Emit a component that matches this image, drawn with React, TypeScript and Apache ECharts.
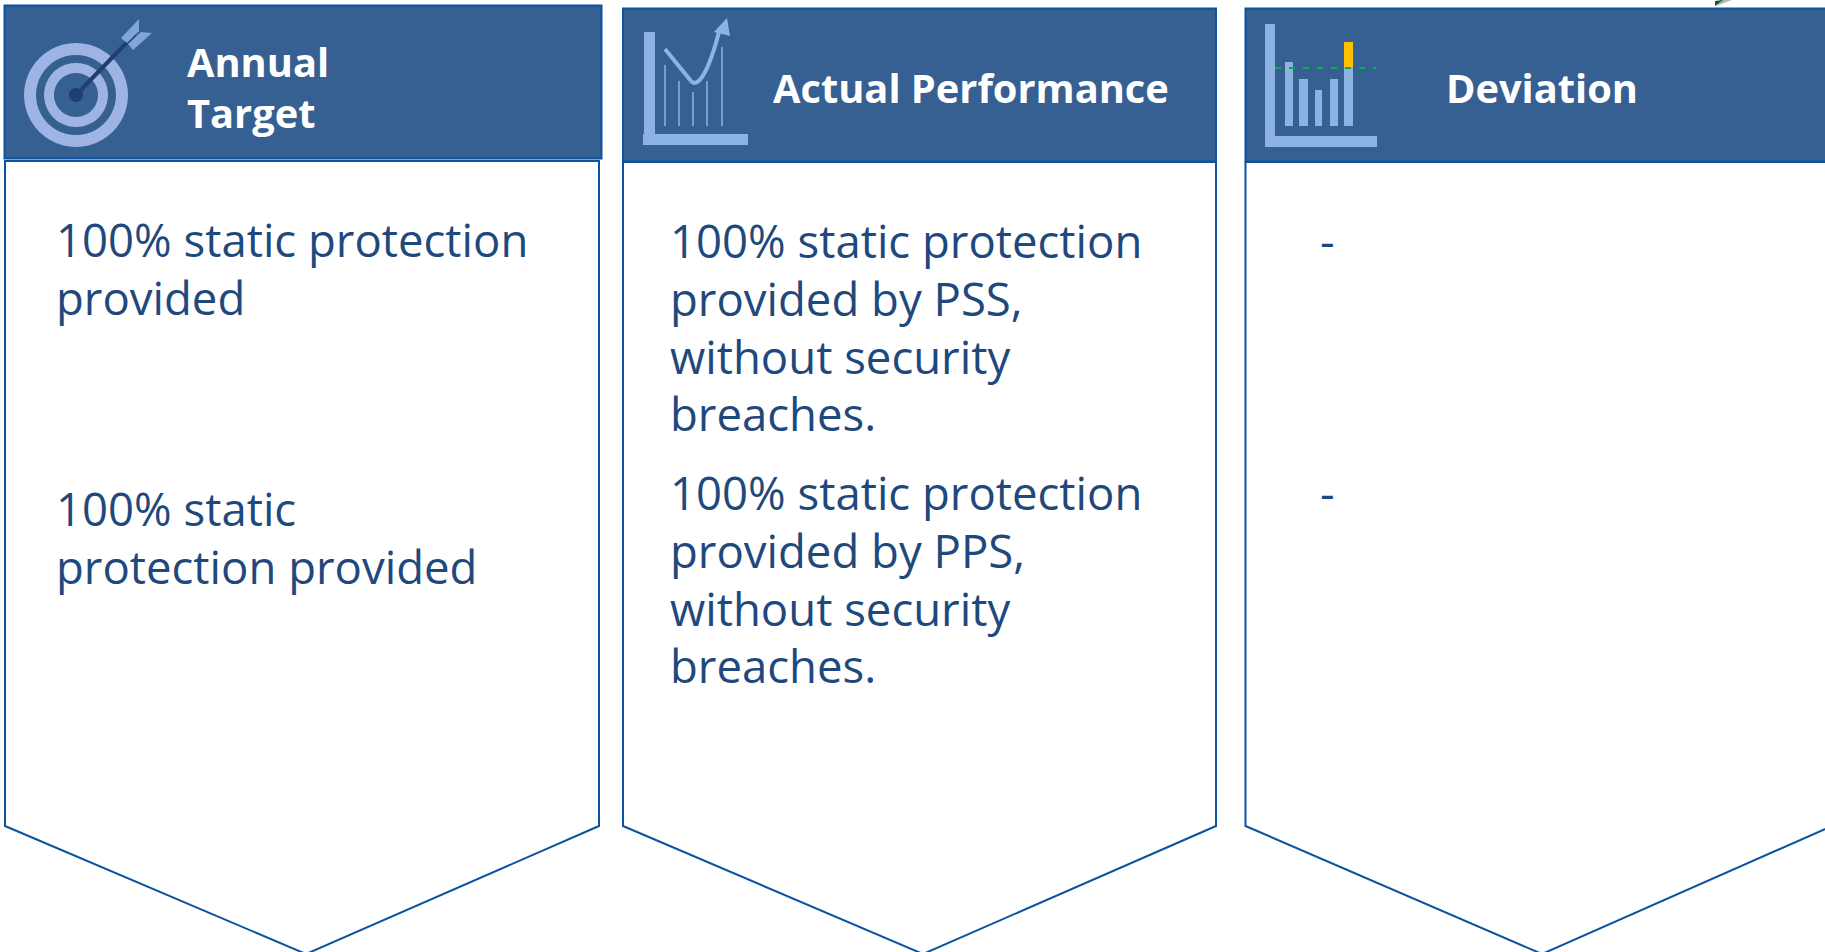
import React, { useEffect, useRef } from "react";
import * as echarts from "echarts";

const headerTitles = [["Annual", "Target"], ["Actual Performance"], ["Deviation"]];
const targetRows = [
  ["100% static protection", "provided"],
  ["100% static", "protection provided"],
];
const actualRows = [
  ["100% static protection", "provided by PSS,", "without security", "breaches."],
  ["100% static protection", "provided by PPS,", "without security", "breaches."],
];
const deviationRows = ["-", "-"];

const FONT = "'Open Sans', 'Noto Sans', sans-serif";
const BLUE = "#376092";
const EDGE = "#0B539F";
const INK = "#1F497D";
const LIGHT = "#8DB3E2";

const bodyText = (x: number, y: number, text: string) => ({
  type: "text", x, y,
  style: { text, fill: INK, font: `400 45.5px ${FONT}`, textAlign: "left", textVerticalAlign: "middle" },
});
const headText = (x: number, y: number, text: string) => ({
  type: "text", x, y,
  style: { text, fill: "#fff", font: `700 39.8px ${FONT}`, textAlign: "left", textVerticalAlign: "middle" },
});
const rect = (x: number, y: number, width: number, height: number, fill: string, extra: any = {}) => ({
  type: "rect", shape: { x, y, width, height }, style: { fill, ...extra },
});
const pentagon = (l: number, r: number, top: number, apex: number) => ({
  type: "polygon",
  shape: { points: [[l, top], [r, top], [r, 826], [apex, 954], [l, 826]] },
  style: { fill: "#fff", stroke: EDGE, lineWidth: 2 },
});
const ring = (cx: number, cy: number, r: number, r0: number, fill: string) => ({
  type: "ring", shape: { cx, cy, r, r0 }, style: { fill },
});
const seg = (x1: number, y1: number, x2: number, y2: number, stroke: string, lineWidth: number, extra: any = {}) => ({
  type: "line", shape: { x1, y1, x2, y2 }, style: { stroke, lineWidth, ...extra },
});

function buildGraphics() {
  const els: any[] = [];
  // panels
  els.push(pentagon(5, 599, 161, 306));
  els.push(rect(4.5, 5.5, 597, 153, BLUE, { stroke: EDGE, lineWidth: 2 }));
  els.push(pentagon(623, 1216, 162, 923));
  els.push(rect(623, 8.5, 593, 153, BLUE, { stroke: EDGE, lineWidth: 2 }));
  els.push(pentagon(1245.5, 1832, 162, 1542));
  els.push(rect(1245.5, 8.5, 600, 153, BLUE, { stroke: EDGE, lineWidth: 2 }));

  // target icon
  els.push(ring(76, 95, 52, 40, "#9DB4E4"));
  els.push(ring(76, 95, 32, 22, "#9DB4E4"));
  els.push({ type: "circle", shape: { cx: 76, cy: 95, r: 7 }, style: { fill: "#1F3F6E" } });
  els.push(seg(76, 95, 135, 34, "#1F3F6E", 4));
  els.push({ type: "polygon", shape: { points: [[121, 38], [139, 19], [139, 31], [127, 43]] }, style: { fill: "#7FA6D6" } });
  els.push({ type: "polygon", shape: { points: [[133, 50], [152, 33], [141, 32], [128, 44]] }, style: { fill: "#7FA6D6" } });

  // performance icon
  els.push(rect(644, 32, 11, 108, LIGHT));
  els.push(rect(643, 134, 105, 11, LIGHT));
  [[665, 65], [679, 81], [693, 92], [707, 81], [722, 47]].forEach(([x, top]) => {
    els.push(seg(x, top, x, 126, LIGHT, 1.5));
  });
  els.push(seg(665, 49, 691, 81, LIGHT, 4));
  els.push({ type: "bezierCurve", shape: { x1: 691, y1: 81, cpx1: 697, cpy1: 88, x2: 720, y2: 28, cpx2: 708, cpy2: 76 }, style: { stroke: LIGHT, lineWidth: 4, fill: "none" } });
  els.push({ type: "polygon", shape: { points: [[714, 32], [727, 18], [730, 36]] }, style: { fill: LIGHT } });

  // deviation icon
  els.push(rect(1265, 24, 10, 122, LIGHT));
  els.push(rect(1265, 136, 112, 11, LIGHT));
  [[1285, 8, 62], [1299, 9, 79], [1315, 7, 90], [1330, 8, 79], [1344, 9, 67]].forEach(([x, w, top]) => {
    els.push(rect(x, top, w, 126 - top, LIGHT));
  });
  els.push(rect(1344, 42, 9, 25, "#FFC000"));
  els.push(seg(1275, 68, 1376, 68, "#00B050", 2, { lineDash: [6, 8] }));

  // stray corner at top of page
  els.push({ type: "polygon", shape: { points: [[1720, 0], [1732, 0], [1716, 6]] }, style: { fill: "#B8B8B8" } });
  els.push({ type: "polygon", shape: { points: [[1715, 6], [1715, 1], [1723, 0]] }, style: { fill: "#0B5A2C" } });

  // headers
  headerTitles[0].forEach((t, i) => els.push(headText(187, 61 + i * 51, t)));
  els.push(headText(773, 87, headerTitles[1][0]));
  els.push(headText(1446, 87, headerTitles[2][0]));

  // body text
  const targetTops = [239, 508];
  targetRows.forEach((rows, b) => rows.forEach((t, i) => els.push(bodyText(56, targetTops[b] + i * 58, t))));
  const actualTops = [240, 492];
  actualRows.forEach((rows, b) => rows.forEach((t, i) => els.push(bodyText(670, actualTops[b] + i * 57.8, t))));
  deviationRows.forEach((t, b) => els.push(bodyText(1320, actualTops[b], t)));
  return els;
}

export default function App() {
  const ref = useRef<HTMLDivElement>(null);
  useEffect(() => {
    document.body.style.margin = "0";
    const chart = echarts.init(ref.current!, undefined, { renderer: "svg" });
    chart.setOption({ animation: false, backgroundColor: "#fff", graphic: { elements: buildGraphics() } });
    return () => chart.dispose();
  }, []);
  return <div ref={ref} style={{ position: "absolute", left: 0, top: 0, width: 1825, height: 952 }} />;
}
